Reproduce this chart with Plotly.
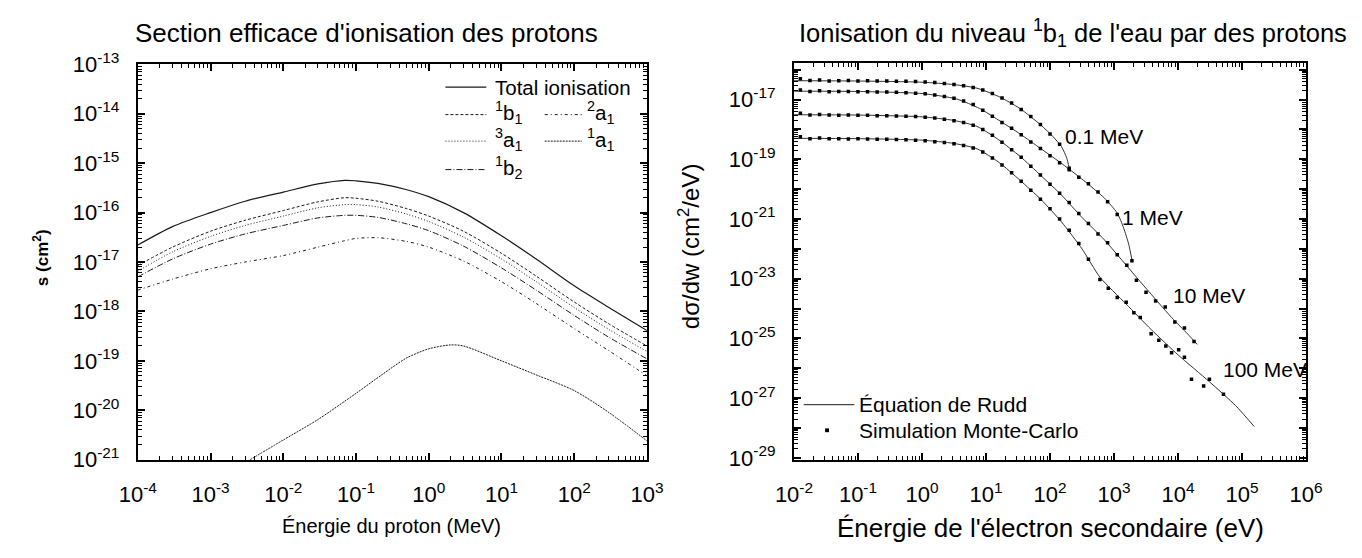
import plotly.graph_objects as go

# ---------------- data: left panel (proton ionisation cross sections, cm^2) ----------------
energy_mev = [1e-4, 3e-4, 1e-3, 3e-3, 1e-2, 3e-2, 7e-2, 1e-1, 2e-1, 5e-1, 1, 3, 10, 30, 100, 300, 1000]
total_ion = [2.2e-17, 5.2e-17, 1.0e-16, 1.7e-16, 2.6e-16, 3.8e-16, 4.5e-16, 4.4e-16, 3.9e-16, 2.9e-16,
             2.1e-16, 1.0e-16, 3.4e-17, 1.15e-17, 3.3e-18, 1.2e-18, 4.1e-19]
s_1b1 = [8.5e-18, 2.0e-17, 4.2e-17, 7.0e-17, 1.1e-16, 1.65e-16, 2.0e-16, 1.95e-16, 1.7e-16, 1.2e-16,
         8.5e-17, 4.2e-17, 1.5e-17, 5.2e-18, 1.55e-18, 5.6e-19, 2.0e-19]
s_3a1 = [6.5e-18, 1.6e-17, 3.3e-17, 5.5e-17, 8.5e-17, 1.25e-16, 1.45e-16, 1.45e-16, 1.3e-16, 9.3e-17,
         6.6e-17, 3.2e-17, 1.15e-17, 4.0e-18, 1.2e-18, 4.3e-19, 1.55e-19]
s_1b2 = [5.0e-18, 1.15e-17, 2.3e-17, 3.7e-17, 5.5e-17, 7.8e-17, 8.8e-17, 8.8e-17, 8.0e-17, 5.9e-17,
         4.3e-17, 2.1e-17, 7.6e-18, 2.7e-18, 8.3e-19, 3.0e-19, 1.1e-19]
s_2a1 = [2.7e-18, 4.5e-18, 7.3e-18, 1.0e-17, 1.35e-17, 2.0e-17, 2.7e-17, 3.0e-17, 3.1e-17, 2.6e-17,
         2.0e-17, 1.05e-17, 4.0e-18, 1.45e-18, 4.5e-19, 1.6e-19, 5.0e-20]
energy_1a1 = [3.5e-3, 1e-2, 3e-2, 1e-1, 3e-1, 5e-1, 1, 2, 3, 10, 30, 100, 300, 1000]
s_1a1 = [1.0e-21, 2.5e-21, 6.5e-21, 2.2e-20, 7.0e-20, 1.15e-19, 1.75e-19, 2.1e-19, 2.0e-19, 1.0e-19,
         5.2e-20, 2.5e-20, 9.0e-21, 2.4e-21]

# ---------------- data: right panel (log10 W [eV], log10 dsigma/dW [cm^2/eV]) ----------------
rudd_01_logw = [-2, -1, 0, 0.5, 0.86, 1.2, 1.53, 1.86, 2.05, 2.18, 2.26, 2.3]
rudd_01_logs = [-16.37, -16.38, -16.42, -16.5, -16.62, -16.9, -17.3, -17.86, -18.25, -18.58, -18.95, -19.3]
rudd_1_logw = [-2, -1, 0, 0.54, 0.9, 1.19, 1.53, 1.86, 2.2, 2.52, 2.85, 3.05, 3.15, 3.23, 3.28]
rudd_1_logs = [-16.72, -16.73, -16.8, -16.98, -17.3, -17.68, -18.15, -18.65, -19.17, -19.7, -20.3, -20.8,
               -21.3, -21.85, -22.37]
rudd_10_logw = [-2, -1, 0, 0.5, 0.86, 1.2, 1.53, 1.86, 2.18, 2.5, 2.85, 3.41, 3.9, 4.15, 4.3]
rudd_10_logs = [-17.51, -17.52, -17.58, -17.7, -17.9, -18.35, -18.9, -19.55, -20.2, -20.95, -21.7, -23.1,
                -24.3, -24.85, -25.2]
rudd_100_logw = [-2, -1, 0, 0.5, 0.86, 1.2, 1.53, 1.86, 2.18, 2.5, 2.78, 3.19, 3.58, 4.0, 4.49, 4.9, 5.19]
rudd_100_logs = [-18.3, -18.31, -18.36, -18.47, -18.65, -19.1, -19.7, -20.35, -21.1, -22.0, -22.95, -23.85,
                 -24.7, -25.55, -26.45, -27.25, -27.95]

mc_01_logw = [-1.9, -1.75, -1.6, -1.45, -1.3, -1.15, -1.0, -0.85, -0.7, -0.55, -0.4, -0.25, -0.1, 0.05, 0.2,
              0.35, 0.5, 0.65, 0.8, 0.95, 1.1, 1.25, 1.4, 1.55, 1.7, 1.85, 2.0, 2.15, 2.3]
mc_01_logs = [-16.3, -16.36, -16.35, -16.38, -16.37, -16.36, -16.38, -16.37, -16.38, -16.38, -16.39, -16.39,
              -16.4, -16.41, -16.43, -16.46, -16.5, -16.54, -16.6, -16.68, -16.8, -16.95, -17.12, -17.33,
              -17.57, -17.84, -18.15, -18.5, -19.3]
mc_1_logw = [-1.9, -1.75, -1.6, -1.45, -1.3, -1.15, -1.0, -0.85, -0.7, -0.55, -0.4, -0.25, -0.1, 0.05, 0.2,
             0.35, 0.5, 0.65, 0.8, 0.95, 1.1, 1.25, 1.4, 1.55, 1.7, 1.85, 2.0, 2.15, 2.3, 2.45, 2.6, 2.75,
             2.9, 3.05, 3.28]
mc_1_logs = [-16.68, -16.73, -16.71, -16.74, -16.73, -16.73, -16.74, -16.74, -16.75, -16.75, -16.76, -16.77,
             -16.79, -16.81, -16.85, -16.9, -16.96, -17.05, -17.17, -17.36, -17.56, -17.77, -17.96, -18.18,
             -18.42, -18.64, -18.88, -19.12, -19.35, -19.6, -19.82, -20.1, -20.42, -20.85, -22.4]
mc_10_logw = [-1.9, -1.75, -1.6, -1.45, -1.3, -1.15, -1.0, -0.85, -0.7, -0.55, -0.4, -0.25, -0.1, 0.05, 0.2,
              0.35, 0.5, 0.65, 0.8, 0.95, 1.1, 1.25, 1.4, 1.55, 1.7, 1.85, 2.0, 2.15, 2.3, 2.45, 2.6, 2.75,
              2.9, 3.05, 3.2, 3.35, 3.5, 3.65, 3.8, 3.95, 4.1, 4.25]
mc_10_logs = [-17.46, -17.52, -17.5, -17.52, -17.53, -17.52, -17.53, -17.53, -17.54, -17.54, -17.55, -17.56,
              -17.57, -17.59, -17.62, -17.66, -17.71, -17.77, -17.86, -18.0, -18.2, -18.43, -18.68, -18.93,
              -19.23, -19.53, -19.84, -20.14, -20.45, -20.82, -21.15, -21.5, -21.8, -22.2, -22.55, -23.05,
              -23.45, -23.75, -23.95, -24.45, -24.65, -25.1]
mc_100_logw = [-1.9, -1.75, -1.6, -1.45, -1.3, -1.15, -1.0, -0.85, -0.7, -0.55, -0.4, -0.25, -0.1, 0.05, 0.2,
               0.35, 0.5, 0.65, 0.8, 0.95, 1.1, 1.25, 1.4, 1.55, 1.7, 1.85, 2.0, 2.15, 2.3, 2.45, 2.6,
               2.78, 2.91, 3.05, 3.19, 3.31, 3.41, 3.58, 3.70, 3.81, 3.90, 4.01, 4.10, 4.21, 4.40, 4.49, 4.71]
mc_100_logs = [-18.25, -18.31, -18.29, -18.31, -18.31, -18.32, -18.31, -18.32, -18.33, -18.33, -18.34, -18.35,
               -18.36, -18.38, -18.41, -18.44, -18.48, -18.54, -18.62, -18.76, -18.96, -19.19, -19.45, -19.74,
               -20.04, -20.34, -20.66, -21.0, -21.38, -21.82, -22.35,
               -23.03, -23.32, -23.63, -23.79, -24.14, -24.30, -24.84, -25.06, -25.25, -25.48, -25.38, -25.63,
               -26.37, -26.59, -26.37, -26.87]

curve_labels = ["0.1 MeV", "1 MeV", "10 MeV", "100 MeV"]

left_x_exp = [-4, -3, -2, -1, 0, 1, 2, 3]
left_y_exp = [-21, -20, -19, -18, -17, -16, -15, -14, -13]
right_x_exp = [-2, -1, 0, 1, 2, 3, 4, 5, 6]
right_y_exp = list(range(-29, -15))

# ---------------- layout helpers ----------------
WID, HEI = 1362, 558
FONT = "Liberation Sans, Arial, Helvetica, sans-serif"


def fx(px):
    return px / WID


def fy(py):
    return 1 - py / HEI


def p10(v):
    return [10 ** x for x in v]


def minor_vals(exps):
    out = []
    for e in exps[:-1]:
        out += [m * 10 ** e for m in range(2, 10)]
    return out


fig = go.Figure()

line_c = "#1a1a1a"
left_series = [
    (energy_mev, total_ion, "solid", 1.2),
    (energy_mev, s_1b1, "3px,2px", 1.0),
    (energy_mev, s_3a1, "1px,2px", 1.0),
    (energy_mev, s_1b2, "6px,2px,1px,2px", 1.0),
    (energy_mev, s_2a1, "3px,3px,1px,3px", 1.0),
    (energy_1a1, s_1a1, "2px,1px", 1.0),
]
for xs, ys, dash, w in left_series:
    fig.add_trace(go.Scatter(x=xs, y=ys, mode="lines",
                             line=dict(color=line_c, width=w, dash=dash, shape="spline", smoothing=0.8),
                             xaxis="x", yaxis="y", showlegend=False, hoverinfo="skip"))

for lw, ls in [(rudd_01_logw, rudd_01_logs), (rudd_1_logw, rudd_1_logs), (rudd_10_logw, rudd_10_logs),
               (rudd_100_logw, rudd_100_logs)]:
    fig.add_trace(go.Scatter(x=p10(lw), y=p10(ls), mode="lines",
                             line=dict(color="#333333", width=1, shape="spline", smoothing=0.6),
                             xaxis="x2", yaxis="y2", showlegend=False, hoverinfo="skip"))
for lw, ls in [(mc_01_logw, mc_01_logs), (mc_1_logw, mc_1_logs), (mc_10_logw, mc_10_logs),
               (mc_100_logw, mc_100_logs)]:
    fig.add_trace(go.Scatter(x=p10(lw), y=p10(ls), mode="markers",
                             marker=dict(color="black", size=3.5, symbol="square"),
                             xaxis="x2", yaxis="y2", showlegend=False, hoverinfo="skip"))


# ---------------- axes ----------------
def axis(exps, dom, rng, labelled=None, anchor=None, standoff=4):
    labelled = exps if labelled is None else labelled
    return dict(type="log", domain=dom, range=rng, anchor=anchor,
                tickvals=p10(exps),
                ticktext=[("10<sup>%d</sup>" % e) if e in labelled else "" for e in exps],
                showline=True, linecolor="black", linewidth=2, mirror="ticks",
                ticks="inside", ticklen=7, tickwidth=1.5, tickcolor="black",
                showgrid=False, zeroline=False, ticklabelstandoff=standoff,
                tickfont=dict(family=FONT, size=22, color="black"),
                minor=dict(tickvals=minor_vals(exps), ticks="inside", ticklen=4, tickwidth=1,
                           tickcolor="black", showgrid=False))


Lbox = (122, 645, 51, 468)
Rbox = (796, 1322, 50, 468)

fig.update_layout(
    width=WID, height=HEI, autosize=False,
    margin=dict(l=0, r=0, t=0, b=0, pad=0),
    paper_bgcolor="white", plot_bgcolor="white",
    font=dict(family=FONT, color="black"),
    xaxis=axis(left_x_exp, [fx(Lbox[0]), fx(Lbox[1])], [-4, 3], anchor="y", standoff=14),
    yaxis=axis(left_y_exp, [fy(Lbox[3]), fy(Lbox[2])], [-21, -13], anchor="x", standoff=12),
    xaxis2=axis(right_x_exp, [fx(Rbox[0]), fx(Rbox[1])], [-2, 6], anchor="y2", standoff=14),
    yaxis2=axis(right_y_exp, [fy(Rbox[3]), fy(Rbox[2])], [-29.06, -15.79],
                labelled=[-29, -27, -25, -23, -21, -19, -17], anchor="x2", standoff=12),
)

ann = []


def text(x, y, s, size, xanchor="left", angle=0):
    ann.append(dict(x=fx(x), y=fy(y), xref="paper", yref="paper", text=s, showarrow=False,
                    xanchor=xanchor, yanchor="middle", textangle=angle, borderpad=0,
                    font=dict(family=FONT, size=size, color="black")))


text(118, 18, "Section efficace d'ionisation des protons", 26)
text(800, 18, "Ionisation du niveau <sup>1</sup>b<sub>1</sub> de l'eau par des protons", 25.5)
text(383, 538, "Énergie du proton (MeV)", 20, xanchor="center")
text(1059, 540, "Énergie de l'électron secondaire (eV)", 26, xanchor="center")
text(22, 255, "<b>s (cm<sup>2</sup>)</b>", 17, xanchor="center", angle=-90)
text(689, 243, "dσ/dw (cm<sup>2</sup>/eV)", 24, xanchor="center", angle=-90)

# energy labels on right panel
text(1073, 127, curve_labels[0], 21)
text(1132, 213, curve_labels[1], 21)
text(1184, 295, curve_labels[2], 21)
text(1324, 373, curve_labels[3], 21, xanchor="right")

# left legend
shapes = []


def legline(x0, x1, y, dash, w=1.2):
    shapes.append(dict(type="line", xref="paper", yref="paper", x0=fx(x0), x1=fx(x1), y0=fy(y), y1=fy(y),
                       line=dict(color=line_c, width=w, dash=dash)))


legline(438, 480, 75, "solid")
text(488, 75, "Total ionisation", 20.5)
legline(438, 480, 104, "3px,2px", 1)
text(488, 102, "<sup>1</sup>b<sub>1</sub>", 20.5)
legline(540, 578, 104, "3px,3px,1px,3px", 1)
text(582, 102, "<sup>2</sup>a<sub>1</sub>", 20.5)
legline(438, 480, 132, "1px,2px", 1)
text(488, 130, "<sup>3</sup>a<sub>1</sub>", 20.5)
legline(540, 578, 132, "2px,1px", 1)
text(582, 130, "<sup>1</sup>a<sub>1</sub>", 20.5)
legline(438, 480, 162, "6px,2px,1px,2px", 1)
text(488, 160, "<sup>1</sup>b<sub>2</sub>", 20.5)

# right legend
legline(806, 858, 410, "solid", 1)
text(862, 410, "Équation de Rudd", 21)
shapes.append(dict(type="rect", xref="paper", yref="paper", x0=fx(828), x1=fx(832), y0=fy(439), y1=fy(435),
                   fillcolor="black", line=dict(width=0)))
text(862, 437, "Simulation Monte-Carlo", 21)

fig.update_layout(annotations=ann, shapes=shapes)
fig.write_html("out.html",
               post_script="document.documentElement.style.margin='0';document.body.style.margin='0';"
                           "document.body.style.padding='0';document.body.style.overflow='hidden';")
